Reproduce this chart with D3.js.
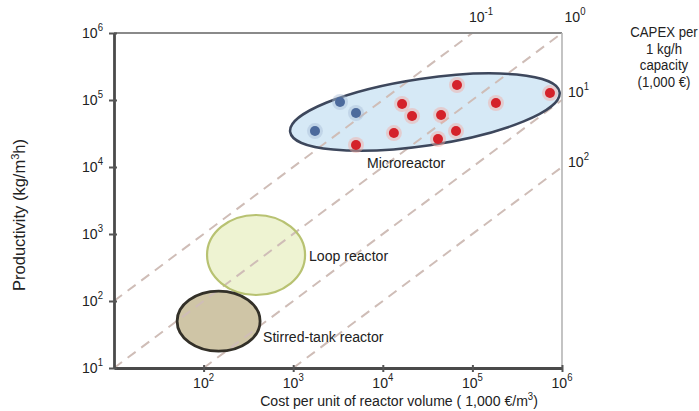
<!DOCTYPE html>
<html><head><meta charset="utf-8">
<script src="https://cdn.jsdelivr.net/npm/d3@7"></script>
<style>body{margin:0;background:#fff}svg{display:block}text{font-family:"Liberation Sans",Arial,sans-serif;fill:#222}</style>
</head><body><svg id="c" width="699" height="411"></svg>
<script>
// ---- data ----
const xTicks = [1e2, 1e3, 1e4, 1e5, 1e6];
const yTicks = [1e1, 1e2, 1e3, 1e4, 1e5, 1e6];
const capexLines = [1e-1, 1e0, 1e1, 1e2];
const capexLabels = ["-1", "0", "1", "2"];
// microreactor points [cost, productivity]
const bluePoints = [[3330, 93300], [5020, 64000], [1750, 34400]];
const redPoints = [[67300, 167500], [734000, 127000], [183000, 90200], [16400, 87100], [21200, 57700],
  [44700, 59700], [13300, 32100], [65600, 34400], [41300, 26200], [5020, 21300]];
// regions: name, center cost, center productivity, half-width (decades x), half-height (decades y), tilt (deg)
const regionNames = ["Microreactor", "Loop reactor", "Stirred-tank reactor"];
const regionCenterX = [29500, 385, 147];
const regionCenterY = [66000, 486, 50];
const regionSpanX = [1.52, 0.547, 0.463];
const regionSpanY = [0.50, 0.597, 0.448];
const regionTilt = [-8.4, 0, 0];
const capexTitle = ["CAPEX per", "1 kg/h", "capacity", "(1,000 €)"];

// ---- layout ----
const svg = d3.select("#c");
const x = d3.scaleLog().domain([1e1, 1e6]).range([114, 562]);
const y = d3.scaleLog().domain([1e1, 1e6]).range([368, 33]);
const decX = x(100) - x(10), decY = y(10) - y(100);
const SX = 0.91;

const fills = ["#d6e9f6", "#eef3d2", "#cfc5a6"];
const strokes = ["#3d475c", "#b8c272", "#333028"];
const sw = [2.5, 2.2, 2.8];

function ell(sel, i) {
  return sel.append("ellipse")
    .attr("cx", x(regionCenterX[i])).attr("cy", y(regionCenterY[i]))
    .attr("rx", regionSpanX[i] * decX).attr("ry", regionSpanY[i] * decY)
    .attr("transform", `rotate(${regionTilt[i]},${x(regionCenterX[i])},${y(regionCenterY[i])})`);
}
regionNames.forEach((n, i) => ell(svg, i).attr("fill", fills[i]).attr("stroke", "none"));

// capex lines
capexLines.forEach(r => {
  const x0 = Math.max(10, 10 * r), x1 = Math.min(1e6, 1e6 * r);
  svg.append("line")
    .attr("x1", x(x0)).attr("y1", y(x0 / r)).attr("x2", x(x1)).attr("y2", y(x1 / r))
    .attr("stroke", "#cfbdb7").attr("stroke-width", 2).attr("stroke-dasharray", "10,7");
});

regionNames.forEach((n, i) => ell(svg, i).attr("fill", "none").attr("stroke", strokes[i]).attr("stroke-width", sw[i]));

// points
function pts(data, core, halo) {
  svg.append("g").selectAll("circle").data(data).join("circle")
    .attr("cx", d => x(d[0])).attr("cy", d => y(d[1])).attr("r", 8)
    .attr("fill", halo).attr("opacity", 0.45);
  svg.append("g").selectAll("circle").data(data).join("circle")
    .attr("cx", d => x(d[0])).attr("cy", d => y(d[1])).attr("r", 5)
    .attr("fill", core);
}
pts(bluePoints, "#4c6a9c", "#a9bcd8");
pts(redPoints, "#d4222a", "#f3a9a0");

// frame
svg.append("line").attr("x1", x(10)).attr("x2", x(1e6)).attr("y1", y(1e6)).attr("y2", y(1e6))
  .attr("stroke", "#8a8a8a").attr("stroke-width", 2.2);
svg.append("line").attr("x1", x(1e6)).attr("x2", x(1e6)).attr("y1", y(1e6)).attr("y2", y(10))
  .attr("stroke", "#b5b5b5").attr("stroke-width", 1.6);

// axes
const xa = svg.append("g").attr("transform", `translate(0,${y(10)})`)
  .call(d3.axisBottom(x).tickValues(xTicks).tickSizeInner(4).tickSizeOuter(0).tickFormat(""));
const ya = svg.append("g").attr("transform", `translate(${x(10)},0)`)
  .call(d3.axisLeft(y).tickValues(yTicks).tickSizeInner(5).tickSizeOuter(0).tickFormat(""));
[xa, ya].forEach(a => {
  a.select(".domain").attr("stroke", "#4a4a4a").attr("stroke-width", 2.8);
  a.selectAll(".tick line").attr("stroke", "#555").attr("stroke-width", 2);
});
xa.selectAll(".tick line").attr("y1", -3);
ya.selectAll(".tick line").attr("x1", 3);

// condensed text helper
function ctext(px, py, anchor, size) {
  return svg.append("g").attr("transform", `translate(${px},${py}) scale(${SX},1)`)
    .append("text").attr("text-anchor", anchor).attr("font-size", size);
}
function pow(t, exp) {
  t.append("tspan").text("10");
  t.append("tspan").attr("dy", -7).attr("font-size", 10.5).text(exp);
  return t;
}
xTicks.forEach(v => pow(ctext(x(v), y(10) + 20, "middle", 15.5), Math.round(Math.log10(v))));
yTicks.forEach(v => pow(ctext(103, y(v) + 4.5, "end", 15.5), Math.round(Math.log10(v))));

// capex labels
pow(ctext(481, 22, "middle", 15.5), capexLabels[0]);
pow(ctext(575, 22, "middle", 15.5), capexLabels[1]);
pow(ctext(568, 97, "start", 15.5), capexLabels[2]);
pow(ctext(568, 167, "start", 15.5), capexLabels[3]);

// CAPEX title
capexTitle.forEach((s, i) => ctext(664, 37 + i * 16.5, "middle", 14.5).text(s));

// region labels
ctext(367, 168, "start", 15.5).text(regionNames[0]);
ctext(309, 261, "start", 15.5).text(regionNames[1]);
ctext(263, 342, "start", 15.5).text(regionNames[2]);

// axis titles
const xt = ctext(399, 406, "middle", 15.5);
xt.append("tspan").text("Cost per unit of reactor volume ( 1,000 €/m");
xt.append("tspan").attr("dy", -6).attr("font-size", 10.5).text("3");
xt.append("tspan").attr("dy", 6).text(")");
const yt = svg.append("text").attr("transform", "translate(25,215) rotate(-90)").attr("text-anchor", "middle").attr("font-size", 16.5);
yt.append("tspan").text("Productivity (kg/m");
yt.append("tspan").attr("dy", -6).attr("font-size", 11).text("3");
yt.append("tspan").attr("dy", 6).text("h)");
</script></body></html>
